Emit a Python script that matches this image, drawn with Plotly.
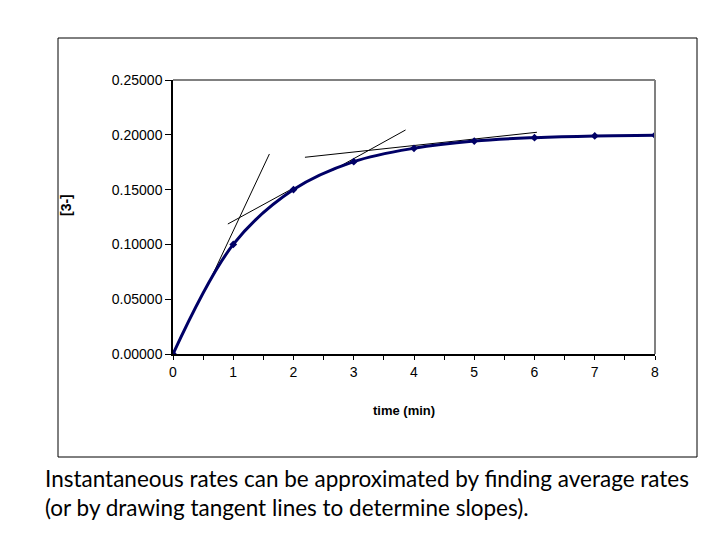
import plotly.graph_objects as go

# concentration of [3-] over time
time_min = [0, 1, 2, 3, 4, 5, 6, 7, 8]
conc = [0.0, 0.100, 0.150, 0.1755, 0.1877, 0.1943, 0.1974, 0.1990, 0.1996]

# hand drawn tangent lines (x pair, y pair)
tangent_x = [[0.56, 1.60], [0.91, 2.02], [2.66, 3.86], [2.19, 6.04]]
tangent_y = [[0.0609, 0.1825], [0.1186, 0.1520], [0.1679, 0.2044], [0.1795, 0.2023]]

x_ticks = [i * 0.5 for i in range(17)]
x_labels = [str(int(v)) if v == int(v) else "" for v in x_ticks]
y_ticks = [0.0, 0.05, 0.10, 0.15, 0.20, 0.25]
y_labels = ["%.5f" % v for v in y_ticks]

caption = ("Instantaneous rates can be approximated by finding average rates<br>"
           "(or by drawing tangent lines to determine slopes).")

fig = go.Figure()

for tx, ty in zip(tangent_x, tangent_y):
    fig.add_trace(go.Scatter(x=tx, y=ty, mode="lines",
                             line=dict(color="black", width=1),
                             hoverinfo="skip", showlegend=False))

fig.add_trace(go.Scatter(
    x=time_min, y=conc, mode="lines+markers",
    line=dict(color="#000066", width=3, shape="spline", smoothing=1.0),
    marker=dict(symbol="diamond", size=6, color="#000066"),
    showlegend=False,
))

# page has an 8px body margin, so margins are shifted by 8
fig.update_layout(
    width=720, height=540,
    margin=dict(l=165, r=73, t=72, b=194),
    paper_bgcolor="white", plot_bgcolor="white",
    font=dict(family="Liberation Sans, Arial, sans-serif", size=14, color="black"),
    xaxis=dict(range=[0, 8], tickvals=x_ticks, ticktext=x_labels,
               ticks="outside", ticklen=4, tickcolor="black",
               showgrid=False, zeroline=False, showline=True,
               linecolor="black", linewidth=1.5, mirror=False),
    yaxis=dict(range=[0, 0.25], tickvals=y_ticks, ticktext=y_labels,
               ticks="outside", ticklen=6, tickcolor="black",
               showgrid=False, zeroline=False, showline=True,
               linecolor="black", linewidth=1.5),
    showlegend=False,
)

# gray top/right edges of the plot area
fig.add_shape(type="line", xref="paper", yref="paper", x0=0, x1=1, y0=1, y1=1,
              line=dict(color="#808080", width=2))
fig.add_shape(type="line", xref="paper", yref="paper", x0=1, x1=1, y0=0, y1=1,
              line=dict(color="#808080", width=2))

# outer chart frame
fig.add_shape(type="rect", xref="paper", yref="paper",
              x0=-115 / 482, x1=1 + 42 / 482, y0=-103 / 274, y1=1 + 42 / 274,
              line=dict(color="black", width=1))

fig.add_annotation(text="<b>time (min)</b>", xref="paper", yref="paper",
                   x=(404 - 173) / 482, y=-56 / 274, xanchor="center",
                   yanchor="middle", showarrow=False, font=dict(size=13))
fig.add_annotation(text="<b>[3-]</b>", xref="paper", yref="paper",
                   x=(66 - 173) / 482, y=(354 - 205) / 274, textangle=-90,
                   xanchor="center", yanchor="middle",
                   showarrow=False, font=dict(size=14))

fig.add_annotation(text=caption, xref="paper", yref="paper",
                   x=(43 - 173) / 482, y=-(463 - 354) / 274,
                   xanchor="left", yanchor="top",
                   align="left", showarrow=False,
                   font=dict(family="Lato, sans-serif", size=22.5, color="black"))

fig.write_html("out.html")
